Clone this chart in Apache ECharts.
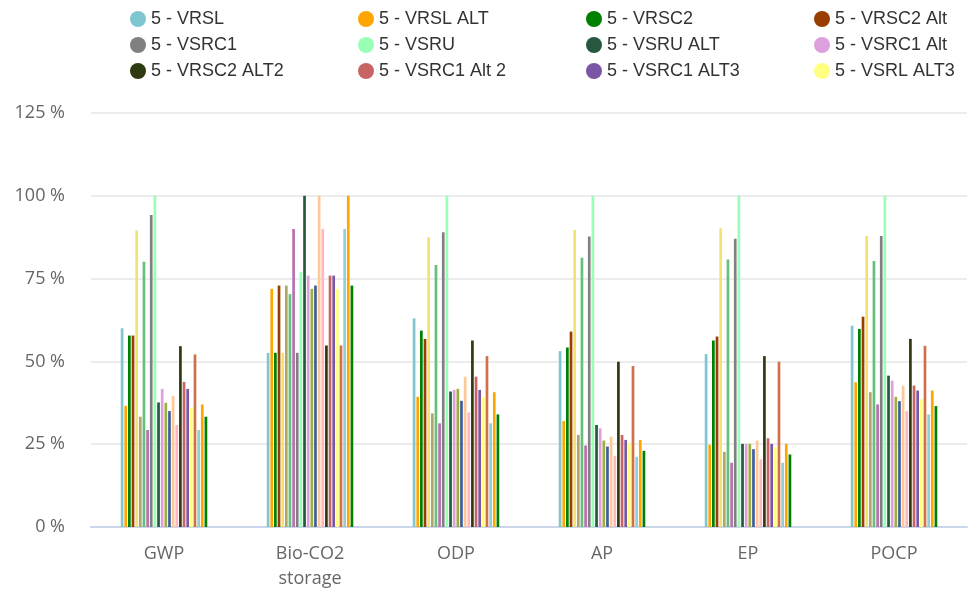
<!DOCTYPE html>
<html>
<head>
<meta charset="utf-8">
<script src="https://cdn.jsdelivr.net/npm/echarts@6/dist/echarts.min.js"></script>
<style>
  html, body { margin: 0; padding: 0; background: #ffffff; }
  #chart { width: 973px; height: 589px; }
</style>
</head>
<body>
<div id="chart"></div>
<script>
// Impact categories on the x axis
const categories = ['GWP', 'Bio-CO2\nstorage', 'ODP', 'AP', 'EP', 'POCP'];

// Y axis ticks (percent)
const yTicks = [0, 25, 50, 75, 100, 125];

// Scenario names, in series order
const seriesNames = [
  '5 - VRSL', '5 - VRSL ALT', '5 - VRSC2', '5 - VRSC2 Alt',
  '5 - VRSL ALT2', '5 - VRSL ALT4', '5 - VSRU ALT2', '5 - VSRC2',
  '5 - VSRC1', '5 - VSRU', '5 - VSRU ALT', '5 - VSRC1 Alt',
  '5 - VSRU ALT3', '5 - VSRC2 Alt', '5 - VRSC1', '5 - VRSC1 Alt',
  '5 - VRSC2 ALT2', '5 - VSRC1 Alt 2', '5 - VSRC1 ALT3', '5 - VSRL ALT3',
  '5 - VRSC2 ALT3', '5 - VSRL', '5 - VSRL ALT', '5 - VRSC1 ALT2'
];

// Values per scenario (% of the maximum), one per category
const vrsl       = [60.0, 52.6, 63.0, 53.1, 52.2, 60.8];
const vrslAlt    = [36.6, 71.9, 39.3, 32.0, 24.8, 43.7];
const vrsc2      = [57.8, 52.6, 59.3, 54.2, 56.3, 59.8];
const vrsc2Alt   = [57.8, 72.9, 56.8, 59.0, 57.5, 63.5];
const vrslAlt2   = [89.5, 52.6, 87.5, 89.7, 90.2, 87.9];
const vrslAlt4   = [33.3, 72.9, 34.3, 27.8, 22.7, 40.7];
const vsruAlt2   = [80.1, 70.3, 79.1, 81.3, 80.8, 80.3];
const vsrc2      = [29.3, 90.0, 31.3, 24.6, 19.4, 37.0];
const vsrc1      = [94.2, 52.6, 89.0, 87.7, 87.0, 87.9];
const vsru       = [100, 77.0, 100, 100, 100, 100];
const vsruAlt    = [37.6, 100, 40.9, 30.8, 25.1, 45.7];
const vsrc1Alt   = [41.7, 75.9, 41.4, 29.8, 25.1, 44.2];
const vsruAlt3   = [37.5, 71.9, 41.7, 26.1, 25.1, 39.3];
const vsrc2Alt   = [35.0, 72.9, 38.1, 24.3, 23.5, 38.0];
const vrsc1      = [39.6, 100, 45.4, 27.3, 26.1, 42.7];
const vrsc1Alt   = [30.8, 90.0, 34.6, 21.5, 20.4, 35.0];
const vrsc2Alt2  = [54.6, 54.8, 56.3, 49.9, 51.6, 56.8];
const vsrc1Alt2  = [43.8, 75.9, 45.4, 27.8, 26.8, 42.7];
const vsrc1Alt3  = [41.7, 75.9, 41.4, 26.3, 25.1, 41.2];
const vsrlAlt3   = [36.0, 71.9, 39.2, 25.3, 24.1, 38.6];
const vrsc2Alt3  = [52.1, 54.8, 51.6, 48.6, 49.9, 54.7];
const vsrl       = [29.3, 90.0, 31.3, 21.2, 19.4, 34.0];
const vsrlAlt    = [37.0, 100, 40.7, 26.3, 25.1, 41.2];
const vrsc1Alt2  = [33.3, 72.9, 34.0, 23.0, 21.9, 36.5];

const seriesValues = [
  vrsl, vrslAlt, vrsc2, vrsc2Alt,
  vrslAlt2, vrslAlt4, vsruAlt2, vsrc2,
  vsrc1, vsru, vsruAlt, vsrc1Alt,
  vsruAlt3, vsrc2Alt, vrsc1, vrsc1Alt,
  vrsc2Alt2, vsrc1Alt2, vsrc1Alt3, vsrlAlt3,
  vrsc2Alt3, vsrl, vsrlAlt, vrsc1Alt2
];

// Bar colours, in series order
const palette = [
  '#7fc6d0', '#ffa500', '#008000', '#993d00',
  '#f2e36c', '#b3a36c', '#66c07c', '#b672ae',
  '#808080', '#98ffb4', '#26573f', '#dda0dd',
  '#9fae3e', '#3d5f9c', '#ffc896', '#ffb6c1',
  '#2e3b10', '#c86464', '#7b56a6', '#ffff80',
  '#d0704a', '#8fd0d8', '#ffa500', '#008000'
];

// Legend rows: the four named scenarios shown on each row
const legendRows = [
  ['5 - VRSL', '5 - VRSL ALT', '5 - VRSC2', '5 - VRSC2 Alt'],
  ['5 - VSRC1', '5 - VSRU', '5 - VSRU ALT', '5 - VSRC1 Alt'],
  ['5 - VRSC2 ALT2', '5 - VSRC1 Alt 2', '5 - VSRC1 ALT3', '5 - VSRL ALT3']
];

const chart = echarts.init(document.getElementById('chart'), null, { renderer: 'canvas' });

const legendFont = 'Liberation Sans, Arial, sans-serif';
const axisFont = 'Open Sans, sans-serif';

// One legend component per row keeps the four columns aligned
const legends = legendRows.map((row, r) => ({
  show: true,
  orient: 'horizontal',
  left: 130,
  top: 10 + r * 26,
  width: 843,
  padding: 0,
  itemGap: 16,
  itemWidth: 16,
  itemHeight: 16,
  icon: 'circle',
  selectedMode: false,
  data: row.map((name, i) => ({
    name: name,
    textStyle: i < 3 ? { width: 191 } : {}
  })),
  textStyle: {
    color: '#333333',
    fontSize: 18,
    fontFamily: legendFont,
    padding: [0, 0, 0, 0],
    lineHeight: 18
  }
}));

const series = seriesNames.map((name, i) => ({
  name: name,
  type: 'bar',
  data: seriesValues[i],
  barWidth: 2.7,
  barGap: '35%',
  itemStyle: { color: palette[i] },
  emphasis: { disabled: true },
  animation: false
}));

chart.setOption({
  backgroundColor: '#ffffff',
  animation: false,
  legend: legends,
  grid: {
    left: 91,
    right: 6,
    top: 113,
    bottom: 62,
    containLabel: false,
    outerBoundsMode: 'none'
  },
  xAxis: {
    type: 'category',
    data: categories,
    axisLine: { lineStyle: { color: '#ccd6eb', width: 2 } },
    axisTick: { show: false },
    axisLabel: {
      color: '#666666',
      fontSize: 18,
      fontFamily: axisFont,
      lineHeight: 25,
      margin: 14,
      interval: 0
    },
    splitLine: { show: false }
  },
  yAxis: {
    type: 'value',
    min: yTicks[0],
    max: yTicks[yTicks.length - 1],
    interval: 25,
    axisLine: { show: false },
    axisTick: { show: false },
    axisLabel: {
      color: '#666666',
      fontSize: 18,
      fontFamily: axisFont,
      margin: 26,
      formatter: '{value} %'
    },
    splitLine: { lineStyle: { color: '#e6e6e6', width: 1.5 } }
  },
  series: series
});
</script>
</body>
</html>
